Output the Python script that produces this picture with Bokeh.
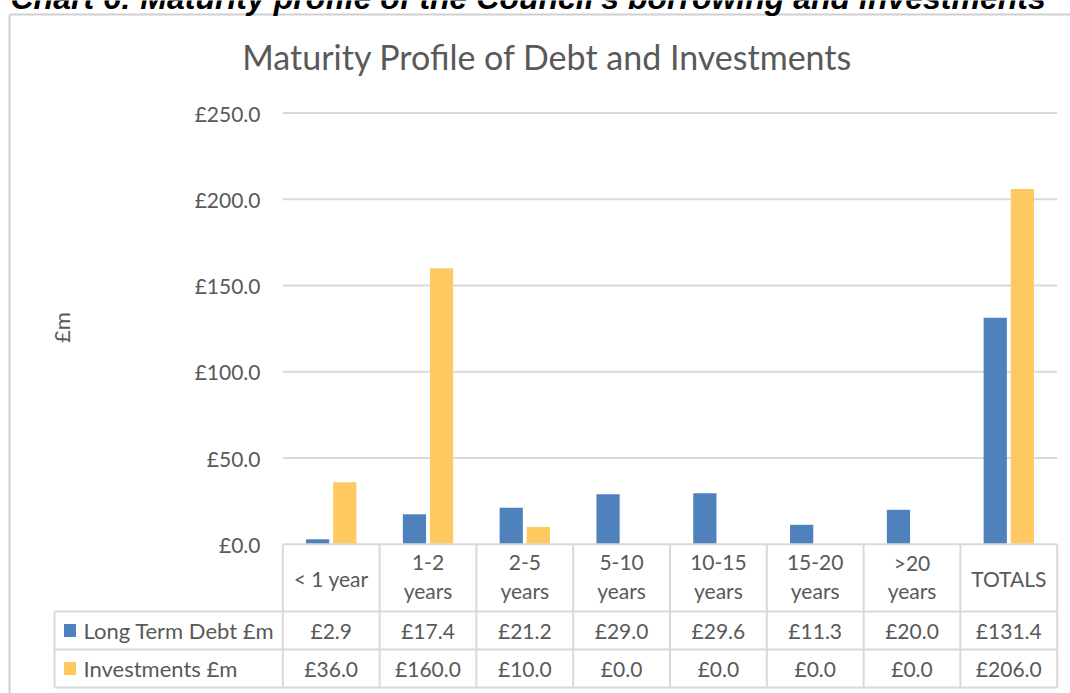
import math
from bokeh.plotting import figure
from bokeh.models import Range1d
from bokeh.core.properties import value
from bokeh.embed import file_html
from bokeh.resources import INLINE

# ---------------- data ----------------
categories = ["< 1 year", "1-2\nyears", "2-5\nyears", "5-10\nyears",
              "10-15\nyears", "15-20\nyears", ">20\nyears", "TOTALS"]
debt = [2.9, 17.4, 21.2, 29.0, 29.6, 11.3, 20.0, 131.4]
investments = [36.0, 160.0, 10.0, 0.0, 0.0, 0.0, 0.0, 206.0]
series_names = ["Long Term Debt £m", "Investments £m"]
y_ticks = [0, 50, 100, 150, 200, 250]

heading = "Chart 6: Maturity profile of the Council's borrowing and investments"
chart_title = "Maturity Profile of Debt and Investments"
y_title = "£m"

# ---------------- layout (canvas pixels -> data units) ----------------
W, H = 1070, 693
X0_PX, COL_PX = 282.3, 96.8
ZERO_PX, PX_PER_UNIT = 543.8, 1.725


def px_x(px):
    return (px - X0_PX) / COL_PX


def px_y(py):
    return (ZERO_PX - py) / PX_PER_UNIT


BLUE = "#4F81BD"
GOLD = "#FFC962"
TEXT = "#595959"
LINE = "#D9D9D9"
FONT = value("Lato")

p = figure(width=W, height=H, output_backend="svg", toolbar_location=None,
           x_axis_location=None, y_axis_location=None,
           x_range=Range1d(px_x(0), px_x(W)),
           y_range=Range1d(px_y(H), px_y(0)),
           min_border=0, tools="")
p.grid.visible = False
p.outline_line_color = None
p.background_fill_color = "white"
p.border_fill_color = "white"

n = len(categories)
xs = [i + 0.5 for i in range(n)]

# chart border (runs off the right and bottom edges)
p.segment(x0=[px_x(9), px_x(9)], y0=[px_y(14), px_y(14)],
          x1=[px_x(W), px_x(9)], y1=[px_y(14), px_y(H)],
          line_color="#D0D0D0", line_width=2)

# heading (cropped at top in the reference)
p.text(x=[px_x(10)], y=[px_y(-3)], text=[heading], text_font=value("Liberation Sans"),
       text_font_style="bold italic", text_font_size="32px", text_color="black",
       text_align="left", text_baseline="middle")

# chart title
p.text(x=[px_x(547)], y=[px_y(56)], text=[chart_title], text_font=FONT,
       text_font_size="34px", text_color=TEXT, text_align="center",
       text_baseline="middle")

# y axis title
p.text(x=[px_x(61)], y=[px_y(327)], text=[y_title], text_font=FONT,
       text_font_size="22px", text_color=TEXT, text_align="center",
       text_baseline="middle", angle=math.pi / 2)

# gridlines
grid_ticks = [t for t in y_ticks if t > 0]
p.segment(x0=[0] * len(grid_ticks), x1=[n] * len(grid_ticks), y0=grid_ticks, y1=grid_ticks,
          line_color=LINE, line_width=2)

# tick labels
p.text(x=[px_x(260)] * len(y_ticks), y=y_ticks, text=["£%.1f" % t for t in y_ticks],
       text_font=FONT, text_font_size="21px", text_color=TEXT,
       text_align="right", text_baseline="middle")

# bars
off = 0.14
bw = 0.24
p.vbar(x=[x - off for x in xs], top=debt, bottom=0, width=bw, fill_color=BLUE,
       line_color=None)
p.vbar(x=[x + off for x in xs], top=investments, bottom=0, width=bw, fill_color=GOLD,
       line_color=None)

# ---------------- data table ----------------
row_top = 0
row_h1 = px_y(611)
row_h2 = px_y(649)
row_h3 = px_y(687)
left_col = px_x(54)

p.segment(x0=[0, left_col, left_col, left_col], x1=[n, n, n, n],
          y0=[row_top, row_h1, row_h2, row_h3], y1=[row_top, row_h1, row_h2, row_h3],
          line_color=LINE, line_width=2)
p.segment(x0=list(range(n + 1)), x1=list(range(n + 1)),
          y0=[row_top] * (n + 1), y1=[row_h3] * (n + 1), line_color=LINE, line_width=2)
p.segment(x0=[left_col], x1=[left_col], y0=[row_h1], y1=[row_h3],
          line_color=LINE, line_width=2)

# header texts: single-line centred, two-line split in two rows
one_x, one_t, l1_x, l1_t, l2_x, l2_t = [], [], [], [], [], []
for x, c in zip(xs, categories):
    parts = c.split("\n")
    if len(parts) == 1:
        one_x.append(x)
        one_t.append(c)
    else:
        l1_x.append(x)
        l1_t.append(parts[0])
        l2_x.append(x)
        l2_t.append(parts[1])
hdr = dict(text_font=FONT, text_font_size="21px", text_color=TEXT,
           text_align="center", text_baseline="middle")
p.text(x=one_x, y=[px_y(577.5)] * len(one_x), text=one_t, **hdr)
p.text(x=l1_x, y=[px_y(562)] * len(l1_x), text=l1_t, **hdr)
p.text(x=l2_x, y=[px_y(590)] * len(l2_x), text=l2_t, **hdr)

# values
y1 = (row_h1 + row_h2) / 2
y2 = (row_h2 + row_h3) / 2
p.text(x=xs, y=[y1] * n, text=["£%.1f" % v for v in debt], **hdr)
p.text(x=xs, y=[y2] * n, text=["£%.1f" % v for v in investments], **hdr)

# row legend keys and labels
p.rect(x=[px_x(69.5)] * 2, y=[y1, y2], width=12, height=13, width_units="screen",
       height_units="screen", fill_color=[BLUE, GOLD], line_color=None)
p.text(x=[px_x(83)] * 2, y=[y1, y2], text=series_names, text_font=FONT,
       text_font_size="22px", text_color=TEXT, text_align="left", text_baseline="middle")

open("out.html", "w").write(file_html(p, INLINE))
